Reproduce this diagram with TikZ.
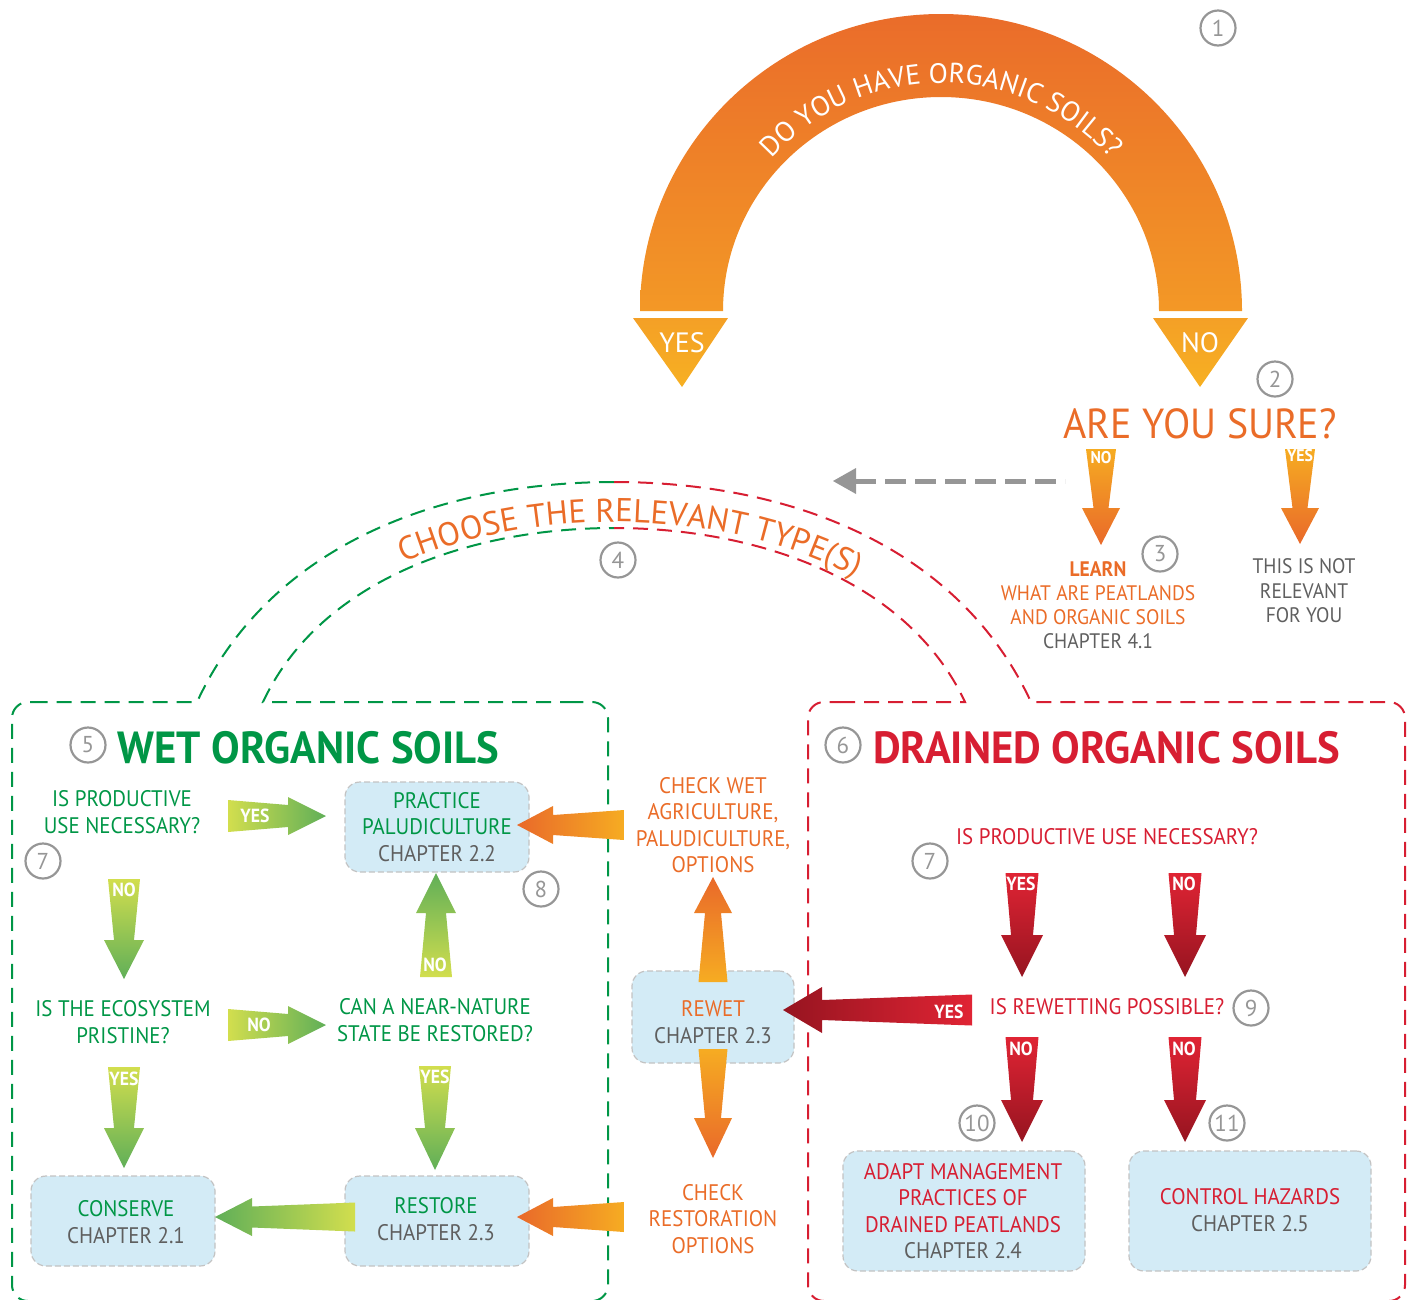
\documentclass[tikz,border=0pt]{standalone}
\usepackage{fontspec}
\setmainfont{PT Sans}
\newfontfamily\cf{PT Sans}[FakeStretch=0.93]
\newfontfamily\tf{PT Sans}[FakeStretch=0.95]
\usetikzlibrary{decorations.text}
\definecolor{wgreen}{RGB}{0,150,70}
\definecolor{dred}{RGB}{215,30,50}
\definecolor{orng}{RGB}{234,108,40}
\definecolor{chap}{RGB}{95,95,95}
\definecolor{boxfill}{RGB}{211,235,246}
\definecolor{boxline}{RGB}{195,195,195}
\definecolor{numgray}{RGB}{150,150,150}
\definecolor{dgray}{RGB}{150,150,150}
\definecolor{ylgreen}{RGB}{210,222,78}
\definecolor{mgreen}{RGB}{96,175,88}
\definecolor{yorange}{RGB}{246,172,34}
\definecolor{rorange}{RGB}{233,105,42}
\definecolor{lred}{RGB}{224,36,52}
\definecolor{darkred}{RGB}{150,20,32}
\definecolor{archtop}{RGB}{234,108,42}
\definecolor{archbot}{RGB}{243,152,38}
\definecolor{tritop}{RGB}{244,160,38}
\definecolor{tribot}{RGB}{247,176,34}
% #1 x, #2 tail y, #3 tip y, #4 tail width, #5 shaft width at head, #6 head base y, #7 head width, #8 tail colour, #9 tip colour
\newcommand\dnArrow[9]{\shade[top color=#8,bottom color=#9] ({#1-#4/2},#2) -- ({#1-#5/2},#6) -- ({#1-#7/2},#6) -- (#1,#3) -- ({#1+#7/2},#6) -- ({#1+#5/2},#6) -- ({#1+#4/2},#2) -- cycle;}
\newcommand\upArrow[9]{\shade[top color=#9,bottom color=#8] ({#1-#4/2},#2) -- ({#1-#5/2},#6) -- ({#1-#7/2},#6) -- (#1,#3) -- ({#1+#7/2},#6) -- ({#1+#5/2},#6) -- ({#1+#4/2},#2) -- cycle;}
% #1 y, #2 tail x, #3 tip x, #4 tail height, #5 shaft height at head, #6 head base x, #7 head height, #8 tail colour, #9 tip colour
\newcommand\lfArrow[9]{\shade[left color=#9,right color=#8] (#2,{#1-#4/2}) -- (#6,{#1-#5/2}) -- (#6,{#1-#7/2}) -- (#3,#1) -- (#6,{#1+#7/2}) -- (#6,{#1+#5/2}) -- (#2,{#1+#4/2}) -- cycle;}
\newcommand\rtArrow[9]{\shade[left color=#8,right color=#9] (#2,{#1-#4/2}) -- (#6,{#1-#5/2}) -- (#6,{#1-#7/2}) -- (#3,#1) -- (#6,{#1+#7/2}) -- (#6,{#1+#5/2}) -- (#2,{#1+#4/2}) -- cycle;}
\begin{document}
\begin{tikzpicture}[x=1pt,y=-1pt,
 base/.style={inner sep=0, align=center, font=\cf\fontsize{22.5}{26.5}\selectfont},
 gq/.style={base, text=wgreen},
 rq/.style={base, text=dred},
 oq/.style={base, text=orng},
 bx/.style={rounded corners=15, fill=boxfill, draw=boxline, line width=1.2, dash pattern=on 6pt off 3pt, inner sep=0},
 numc/.style={circle, draw=numgray, line width=2.2, minimum size=35, inner sep=0, text=numgray, font=\fontsize{23}{23}\selectfont},
 lab/.style={inner sep=0, text=white, font=\cf\bfseries\fontsize{19}{19}\selectfont},
 gdash/.style={draw=wgreen, line width=2, dash pattern=on 15pt off 9pt},
 rdash/.style={draw=dred, line width=2, dash pattern=on 15pt off 9pt},
 title/.style={inner sep=0, anchor=base west, font=\tf\bfseries\fontsize{45}{45}\selectfont}]
\useasboundingbox (0,0) rectangle (1407,1299);
\clip (0,0) rectangle (1407,1299);

% ---------- step 1: big arch ----------
\shade[top color=archtop, bottom color=archbot] (640,311) arc[start angle=180,end angle=360,x radius=301,y radius=297] -- (1159,311) arc[start angle=0,end angle=-180,x radius=218,y radius=214] -- cycle;
\shade[top color=tritop, bottom color=tribot] (633,318) -- (728,318) -- (682,387) -- cycle;
\shade[top color=tritop, bottom color=tribot] (1153,318) -- (1248,318) -- (1200,387) -- cycle;
\node[inner sep=0, text=white, font=\fontsize{28}{28}\selectfont] (yesA) at (682,343) {YES};
\node[inner sep=0, text=white, font=\fontsize{28}{28}\selectfont] (noA) at (1200,343) {NO};
\path[decorate, decoration={text along path, text align=center, text={|\fontsize{28}{28}\selectfont\color{white}|DO YOU HAVE ORGANIC SOILS?}}] (726.8,233.0) arc[start angle=200, end angle=340, radius=228];
\node[numc] (n1) at (1218,28) {1};

% ---------- step 2/3 ----------
\node[numc] (n2) at (1275,379) {2};
\node[inner sep=0, text=orng, font=\tf\fontsize{42}{42}\selectfont] (sure) at (1200,424) {ARE YOU SURE?};
\dnArrow{1101}{449}{545}{30}{15}{508}{38}{yorange}{rorange}
\dnArrow{1300}{449}{544}{30}{15}{508}{38}{yorange}{rorange}
\node[lab, font=\cf\bfseries\fontsize{17}{17}\selectfont] (noS) at (1101,458) {NO};
\node[lab, font=\cf\bfseries\fontsize{17}{17}\selectfont] (yesS) at (1300,456) {YES};
\coordinate (gs) at (1065,481);
\coordinate (ge) at (855,481);
\draw[line width=5, draw=dgray, dash pattern=on 21pt off 9pt] (ge) -- (gs);
\fill[dgray] (833,481) -- (856,468) -- (856,494) -- cycle;
\node[numc] (n3) at (1160,554) {3};
\node[base, text=orng, font=\cf\fontsize{21}{24}\selectfont] (learn) at (1098,605) {{\bfseries LEARN}\\WHAT ARE PEATLANDS\\AND ORGANIC SOILS\\\textcolor{chap}{CHAPTER 4.1}};
\node[base, text=chap, font=\cf\fontsize{21}{24.5}\selectfont] (notrel) at (1304,591) {THIS IS NOT\\RELEVANT\\FOR YOU};

% ---------- step 4: dashed outlines ----------
\draw[gdash] (614,482) .. controls (440,482) and (270,545) .. (197,702) -- (45,702);
\draw[gdash, rounded corners=16] (45,702) -- (12,702) -- (12,1301) -- (608,1301) -- (608,702) -- (575,702);
\draw[gdash] (575,702) -- (263,702) .. controls (320,580) and (470,528) .. (614,528);
\draw[rdash] (614,482) .. controls (788,482) and (958,545) .. (1031,702) -- (1370,702);
\draw[rdash, rounded corners=16] (1370,702) -- (1405,702) -- (1405,1301) -- (808,1301) -- (808,702) -- (840,702);
\draw[rdash] (840,702) -- (965,702) .. controls (908,580) and (758,528) .. (614,528);
\path[decorate, decoration={text along path, text align={left indent=34pt, center}, text={|\fontsize{33}{33}\selectfont\color{orng}|CHOOSE THE RELEVANT TYPE(S)}}] (250,702) .. controls (305,578) and (465,522) .. (614,522) .. controls (763,522) and (923,578) .. (978,702);
\node[numc] (n4) at (618,560) {4};

% ---------- wet organic soils ----------
\node[numc] (n5) at (88,745) {5};
\node[title, text=wgreen] (wett) at (117,763) {WET ORGANIC SOILS};
\node[gq] (wq1) at (122,812) {IS PRODUCTIVE\\USE NECESSARY?};
\node[numc] (n7a) at (43,861) {7};
\node[bx, minimum width=184, minimum height=90] (palu) at (437,827) {};
\node[gq] (palut) at (437,827) {PRACTICE\\PALUDICULTURE\\\textcolor{chap}{CHAPTER 2.2}};
\node[numc] (n8) at (541,889) {8};
\node[gq] (wq2) at (123,1022) {IS THE ECOSYSTEM\\PRISTINE?};
\node[gq] (wq3) at (435,1020) {CAN A NEAR-NATURE\\STATE BE RESTORED?};
\node[bx, minimum width=184, minimum height=90] (cons) at (123,1221) {};
\node[gq] (const) at (126,1222) {CONSERVE\\\textcolor{chap}{CHAPTER 2.1}};
\node[bx, minimum width=184, minimum height=90] (rest) at (437,1221) {};
\node[gq] (restt) at (436,1219) {RESTORE\\\textcolor{chap}{CHAPTER 2.3}};

% ---------- middle column ----------
\node[oq] (chkwet) at (713,825) {CHECK WET\\AGRICULTURE,\\PALUDICULTURE,\\OPTIONS};
\node[bx, minimum width=162, minimum height=92] (rewet) at (713,1017) {};
\node[oq] (rewett) at (713,1022) {REWET\\\textcolor{chap}{CHAPTER 2.3}};
\node[oq] (chkrest) at (713,1219) {CHECK\\RESTORATION\\OPTIONS};

% ---------- drained organic soils ----------
\node[numc] (n6) at (843,745) {6};
\node[title, text=dred] (drt) at (873,763) {DRAINED ORGANIC SOILS};
\node[rq] (dq1) at (1107,837) {IS PRODUCTIVE USE NECESSARY?};
\node[numc] (n7b) at (930,861) {7};
\node[rq] (dq2) at (1107,1007) {IS REWETTING POSSIBLE?};
\node[numc] (n9) at (1251,1008) {9};
\node[numc] (n10) at (977,1123) {10};
\node[numc] (n11) at (1227,1123) {11};
\node[bx, minimum width=242, minimum height=120] (adapt) at (964,1211) {};
\node[rq] (adaptt) at (963,1211) {ADAPT MANAGEMENT\\PRACTICES OF\\DRAINED PEATLANDS\\\textcolor{chap}{CHAPTER 2.4}};
\node[bx, minimum width=242, minimum height=120] (ctrl) at (1250,1211) {};
\node[rq] (ctrlt) at (1250,1210) {CONTROL HAZARDS\\\textcolor{chap}{CHAPTER 2.5}};

% ---------- fat arrows ----------
\dnArrow{124}{879}{979}{32}{20}{940}{40}{ylgreen}{mgreen}
\upArrow{436}{977}{873}{32}{20}{913}{40}{ylgreen}{mgreen}
\dnArrow{124}{1067}{1168}{32}{20}{1128}{40}{ylgreen}{mgreen}
\dnArrow{435}{1066}{1170}{32}{20}{1128}{40}{ylgreen}{mgreen}
\rtArrow{816}{228}{326}{32}{22}{288}{38}{ylgreen}{mgreen}
\rtArrow{1025}{228}{326}{32}{22}{288}{38}{ylgreen}{mgreen}
\lfArrow{1217}{355}{215}{29}{21}{252}{38}{ylgreen}{mgreen}
\lfArrow{825}{624}{517}{30}{20}{553}{38}{yorange}{rorange}
\lfArrow{1217}{624}{517}{30}{20}{553}{38}{yorange}{rorange}
\upArrow{713}{982}{877}{29}{16}{913}{38}{yorange}{rorange}
\dnArrow{713}{1049}{1158}{29}{16}{1118}{38}{yorange}{rorange}
\dnArrow{1022}{873}{977}{33}{22}{935}{42}{lred}{darkred}
\dnArrow{1185}{873}{977}{33}{22}{935}{42}{lred}{darkred}
\dnArrow{1022}{1037}{1142}{33}{22}{1100}{42}{lred}{darkred}
\dnArrow{1185}{1037}{1142}{33}{22}{1100}{42}{lred}{darkred}
\lfArrow{1010}{972}{783}{31}{20}{822}{46}{lred}{darkred}

% ---------- arrow labels ----------
\node[lab] (l1) at (255,816) {YES};
\node[lab] (l2) at (259,1025) {NO};
\node[lab] (l3) at (124,890) {NO};
\node[lab] (l4) at (435,965) {NO};
\node[lab] (l5) at (124,1079) {YES};
\node[lab] (l6) at (435,1077) {YES};
\node[lab] (l7) at (1021,884) {YES};
\node[lab] (l8) at (1184,884) {NO};
\node[lab] (l9) at (1021,1049) {NO};
\node[lab] (l10) at (1184,1049) {NO};
\node[lab] (l11) at (949,1012) {YES};
\end{tikzpicture}
\end{document}
